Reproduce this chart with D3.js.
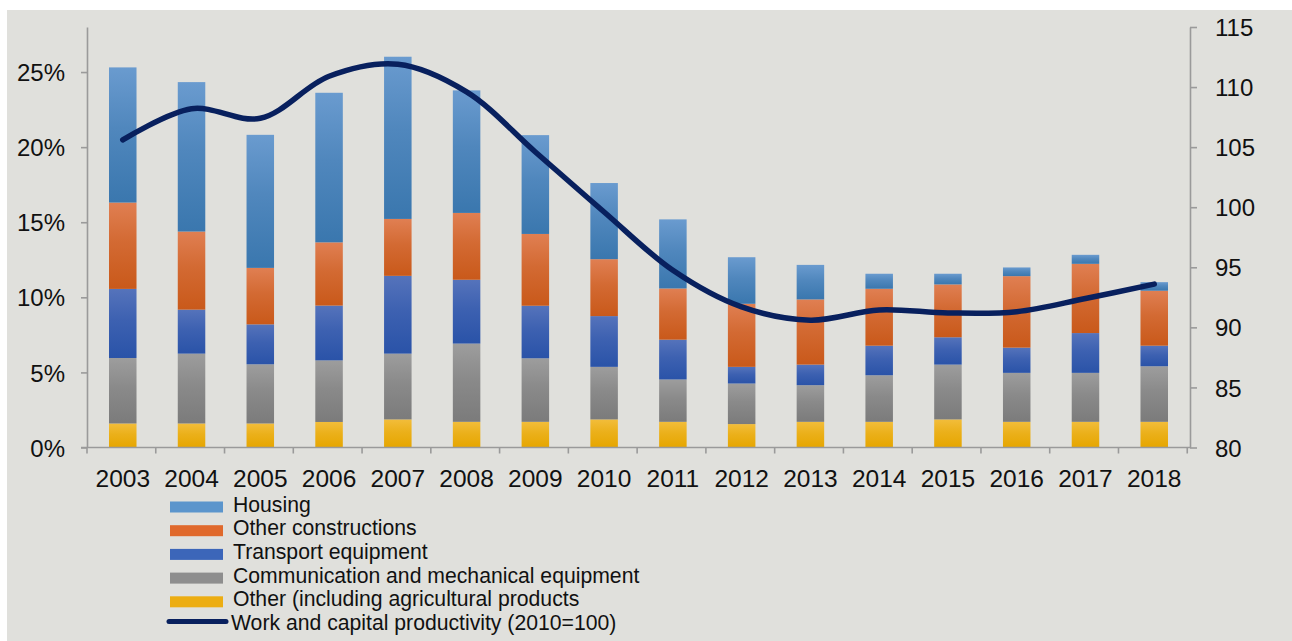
<!DOCTYPE html>
<html>
<head>
<meta charset="utf-8">
<script src="https://cdn.jsdelivr.net/npm/d3@7"></script>
<style>
  html, body { margin: 0; padding: 0; background: #fff; }
  svg { display: block; font-family: "Liberation Sans", Arial, sans-serif; }
</style>
</head>
<body>
<div id="chart"></div>
<script>
const years = ["2003","2004","2005","2006","2007","2008","2009","2010","2011","2012","2013","2014","2015","2016","2017","2018"];

// stacked shares of investment (% of GDP), bottom to top
const other        = [1.6, 1.6, 1.6, 1.7, 1.87, 1.71, 1.71, 1.87, 1.71, 1.56, 1.71, 1.71, 1.87, 1.71, 1.71, 1.71];
const communication = [4.36, 4.65, 3.94, 4.1, 4.38, 5.21, 4.23, 3.5, 2.82, 2.7, 2.44, 3.1, 3.65, 3.26, 3.26, 3.7];
const transport    = [4.6, 2.93, 2.66, 3.65, 5.18, 4.25, 3.5, 3.38, 2.65, 1.11, 1.37, 1.97, 1.82, 1.68, 2.65, 1.37];
const otherConstr  = [5.75, 5.2, 3.76, 4.21, 3.79, 4.45, 4.78, 3.79, 3.41, 4.2, 4.34, 3.79, 3.52, 4.76, 4.61, 3.66];
const housing      = [9.0, 9.95, 8.86, 9.96, 10.8, 8.16, 6.58, 5.07, 4.6, 3.1, 2.3, 1.0, 0.71, 0.58, 0.6, 0.57];

// right axis: productivity index (2010=100)
const productivity = [105.6, 108.2, 107.4, 110.9, 111.9, 109.6, 104.6, 99.6, 94.75, 91.7, 90.6, 91.45, 91.2, 91.3, 92.4, 93.6];

const leftTicks = [0, 5, 10, 15, 20, 25];
const rightTicks = [80, 85, 90, 95, 100, 105, 110, 115];

const series = [
  { key: "other", name: "Other (including agricultural products", values: other, top: "#f2bd3a", bottom: "#e6a600", swatch: "#ecad12" },
  { key: "comm", name: "Communication and mechanical equipment", values: communication, top: "#9d9d9d", bottom: "#7b7b7b", swatch: "#8e8e8e" },
  { key: "transport", name: "Transport equipment", values: transport, top: "#5573bb", bottom: "#2a53a8", swatch: "#3c66b9" },
  { key: "otherConstr", name: "Other constructions", values: otherConstr, top: "#e07f52", bottom: "#c9591a", swatch: "#e0692c" },
  { key: "housing", name: "Housing", values: housing, top: "#6a9bcf", bottom: "#3a77ae", swatch: "#5b95cc" }
];
const lineName = "Work and capital productivity (2010=100)";
const lineColor = "#08205e";

const width = 1292, height = 641;
const plot = { left: 87, right: 1190, top: 27, bottom: 447.5 };

const svg = d3.select("#chart").append("svg")
  .attr("width", width)
  .attr("height", height);

const defs = svg.append("defs");
series.forEach(s => {
  const g = defs.append("linearGradient")
    .attr("id", "grad-" + s.key)
    .attr("x1", 0).attr("y1", 0).attr("x2", 0).attr("y2", 1);
  g.append("stop").attr("offset", "0%").attr("stop-color", s.top);
  g.append("stop").attr("offset", "45%").attr("stop-color", d3.interpolateRgb(s.top, s.bottom)(0.55));
  g.append("stop").attr("offset", "100%").attr("stop-color", s.bottom);
});

// background panel
svg.append("rect")
  .attr("x", 7).attr("y", 10)
  .attr("width", width - 7).attr("height", height - 10)
  .attr("fill", "#e0e0dc");

const x = d3.scaleBand()
  .domain(years)
  .range([plot.left, plot.right])
  .paddingInner(0.6)
  .paddingOuter(0.32);

const y = d3.scaleLinear().domain([0, 28]).range([plot.bottom, plot.top]);
const y2 = d3.scaleLinear().domain([80, 115]).range([plot.bottom, plot.top]);

// stacked data
const rows = years.map((yr, i) => {
  const r = { year: yr };
  series.forEach(s => r[s.key] = s.values[i]);
  return r;
});
const stacked = d3.stack().keys(series.map(s => s.key))(rows);

const axisColor = "#9a9a9a";

// bars
svg.append("g")
  .selectAll("g")
  .data(stacked)
  .join("g")
  .attr("fill", d => `url(#grad-${d.key})`)
  .selectAll("rect")
  .data(d => d)
  .join("rect")
  .attr("x", d => x(d.data.year))
  .attr("width", x.bandwidth())
  .attr("y", d => y(d[1]))
  .attr("height", d => y(d[0]) - y(d[1]));

// left axis
const leftAxis = svg.append("g")
  .attr("transform", `translate(${plot.left},0)`)
  .call(d3.axisLeft(y).tickValues(leftTicks).tickFormat(d => d + "%").tickSize(6).tickSizeOuter(0).tickPadding(16));
leftAxis.select(".domain").attr("stroke", axisColor).attr("stroke-width", 1.6);
leftAxis.selectAll(".tick line").attr("stroke", axisColor).attr("stroke-width", 1.6);
leftAxis.selectAll(".tick text").attr("fill", "#111").style("font-size", "24px").attr("dy", "0.36em");

// right axis
const rightAxis = svg.append("g")
  .attr("transform", `translate(${plot.right},0)`)
  .call(d3.axisRight(y2).tickValues(rightTicks).tickSize(7).tickSizeOuter(0).tickPadding(18));
rightAxis.select(".domain").attr("stroke", axisColor).attr("stroke-width", 1.6);
rightAxis.selectAll(".tick line").attr("stroke", axisColor).attr("stroke-width", 1.6);
rightAxis.selectAll(".tick text").attr("fill", "#111").style("font-size", "24px").attr("dy", "0.36em");

// x axis: baseline plus ticks between categories
const xg = svg.append("g");
xg.append("line")
  .attr("x1", plot.left - 6).attr("x2", plot.right)
  .attr("y1", plot.bottom).attr("y2", plot.bottom)
  .attr("stroke", axisColor).attr("stroke-width", 1.6);
const step = x.step();
xg.selectAll("line.tk")
  .data(d3.range(years.length + 1))
  .join("line")
  .attr("class", "tk")
  .attr("x1", i => plot.left + i * step)
  .attr("x2", i => plot.left + i * step)
  .attr("y1", plot.bottom)
  .attr("y2", plot.bottom + 6)
  .attr("stroke", axisColor).attr("stroke-width", 1.6);
xg.selectAll("text")
  .data(years)
  .join("text")
  .attr("x", d => x(d) + x.bandwidth() / 2)
  .attr("y", 487)
  .attr("text-anchor", "middle")
  .attr("fill", "#111")
  .style("font-size", "24.5px")
  .text(d => d);

// productivity line
const line = d3.line()
  .x((d, i) => x(years[i]) + x.bandwidth() / 2)
  .y(d => y2(d))
  .curve(d3.curveCatmullRom.alpha(0.5));
svg.append("path")
  .datum(productivity)
  .attr("fill", "none")
  .attr("stroke", lineColor)
  .attr("stroke-width", 5.5)
  .attr("stroke-linecap", "round")
  .attr("d", line);

// legend
const legendItems = series.slice().reverse();
const lg = svg.append("g").attr("transform", "translate(170,0)");
const rowY = i => 511.5 + i * 23.7;
legendItems.forEach((s, i) => {
  lg.append("rect")
    .attr("x", 0).attr("y", rowY(i) - 10)
    .attr("width", 53).attr("height", 11)
    .attr("fill", s.swatch);
  lg.append("text")
    .attr("x", 63).attr("y", rowY(i))
    .attr("fill", "#111")
    .style("font-size", "21.2px")
    .text(s.name);
});
lg.append("line")
  .attr("x1", -1).attr("x2", 56)
  .attr("y1", rowY(5) - 8.5).attr("y2", rowY(5) - 8.5)
  .attr("stroke", lineColor)
  .attr("stroke-width", 5)
  .attr("stroke-linecap", "round");
lg.append("text")
  .attr("x", 61).attr("y", rowY(5))
  .attr("fill", "#111")
  .style("font-size", "21.2px")
  .text(lineName);
</script>
</body>
</html>
